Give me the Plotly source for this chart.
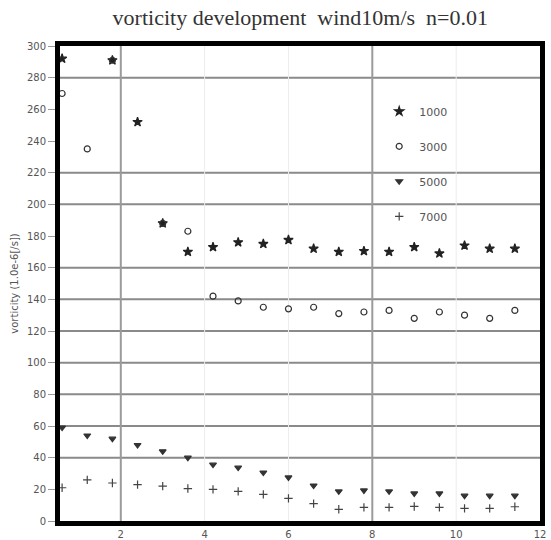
import plotly.graph_objects as go

# ---------- data ----------
TIME = [0.6, 1.2, 1.8, 2.4, 3.0, 3.6, 4.2, 4.8, 5.4, 6.0,
        6.6, 7.2, 7.8, 8.4, 9.0, 9.6, 10.2, 10.8, 11.4]

V1000 = [292, None, 291, 252, 188, 170, 173, 176, 175, 177.5,
         172, 170, 170.5, 170, 173, 169, 174, 172, 172]
V3000 = [270, 235, 291, None, 188, 183, 142, 139, 135, 134,
         135, 131, 132, 133, 128, 132, 130, 128, 133]
V5000 = [59, 54, 52, 48, 44, 40, 35.6, 33.7, 30.6, 27.5,
         22.4, 18.7, 19.3, 18.7, 17.4, 17.4, 16, 16, 16]
V7000 = [21, 26, 24, 23, 22, 20.5, 20, 18.7, 16.8, 14.3,
         11, 7.4, 8.6, 8.6, 9.2, 8.6, 8, 8, 9]

SERIES_NAMES = ["1000", "3000", "5000", "7000"]
Y_TICKS = list(range(0, 301, 20))
X_TICKS = [2, 4, 6, 8, 10, 12]

# gridlines that show in the reference (not every tick has one)
GRID_Y = [40, 60, 80, 100, 120, 140, 160, 200, 220, 280]
GRID_X_DARK = [2, 8]
GRID_X_FAINT = [4, 6, 10]

# ---------- figure ----------
symbols = ["star", "circle-open", "triangle-down", "cross-thin-open"]
sizes = [7, 6, 6, 6]
colors = ["#222", "#333", "#333", "#444"]

fig = go.Figure()
for name, vals, sym, sz, col in zip(SERIES_NAMES, [V1000, V3000, V5000, V7000],
                                    symbols, sizes, colors):
    fig.add_trace(go.Scatter(
        x=TIME, y=vals, mode="markers", name=name, legendgroup=name,
        marker=dict(symbol=sym, size=sz, color=col,
                    line=dict(color=col, width=1.2)),
        cliponaxis=False,
    ))

for gy in GRID_Y:
    fig.add_shape(type="line", xref="paper", yref="y", x0=0, x1=1, y0=gy, y1=gy,
                  line=dict(color="#8a8a8a", width=2), layer="below")
for gx in GRID_X_DARK:
    fig.add_shape(type="line", xref="x", yref="paper", x0=gx, x1=gx, y0=0, y1=1,
                  line=dict(color="#9a9a9a", width=2), layer="below")
for gx in GRID_X_FAINT:
    fig.add_shape(type="line", xref="x", yref="paper", x0=gx, x1=gx, y0=0, y1=1,
                  line=dict(color="#ececec", width=1), layer="below")

fig.update_layout(
    width=551, height=540,
    template="none",
    paper_bgcolor="white", plot_bgcolor="white",
    margin=dict(l=60, r=11, t=46, b=19),
    title=dict(text="vorticity development  wind10m/s  n=0.01",
               x=0.545, xanchor="center", y=0.968, yanchor="middle",
               font=dict(family="Liberation Serif", size=22, color="#333")),
    showlegend=True,
    legend=dict(x=0.665, y=0.893, xanchor="left", yanchor="top",
                bgcolor="rgba(0,0,0,0)", borderwidth=0, tracegroupgap=16,
                itemsizing="trace",
                font=dict(family="DejaVu Sans", size=11, color="#555")),
    font=dict(family="DejaVu Sans", size=10, color="#555"),
)

fig.update_xaxes(range=[0.55, 12], tickvals=X_TICKS, showgrid=False, zeroline=False,
                 showline=True, linewidth=5, linecolor="black", mirror=True,
                 ticks="", automargin=False, tickfont=dict(size=10, color="#555"))
fig.update_yaxes(range=[0, 300], tickvals=Y_TICKS, showgrid=False, zeroline=False,
                 showline=True, linewidth=5, linecolor="black", mirror=True,
                 ticks="outside", ticklen=7, tickcolor="#999", automargin=False,
                 tickfont=dict(size=10, color="#555"),
                 title=dict(text="vorticity (1.0e-6[/s])", standoff=8,
                            font=dict(size=10, color="#555")))

# page body has an 8px default margin; drop it so the figure sits at the corner
fig.write_html("out.html", config={"displayModeBar": False},
               post_script="document.body.style.margin='0';")
